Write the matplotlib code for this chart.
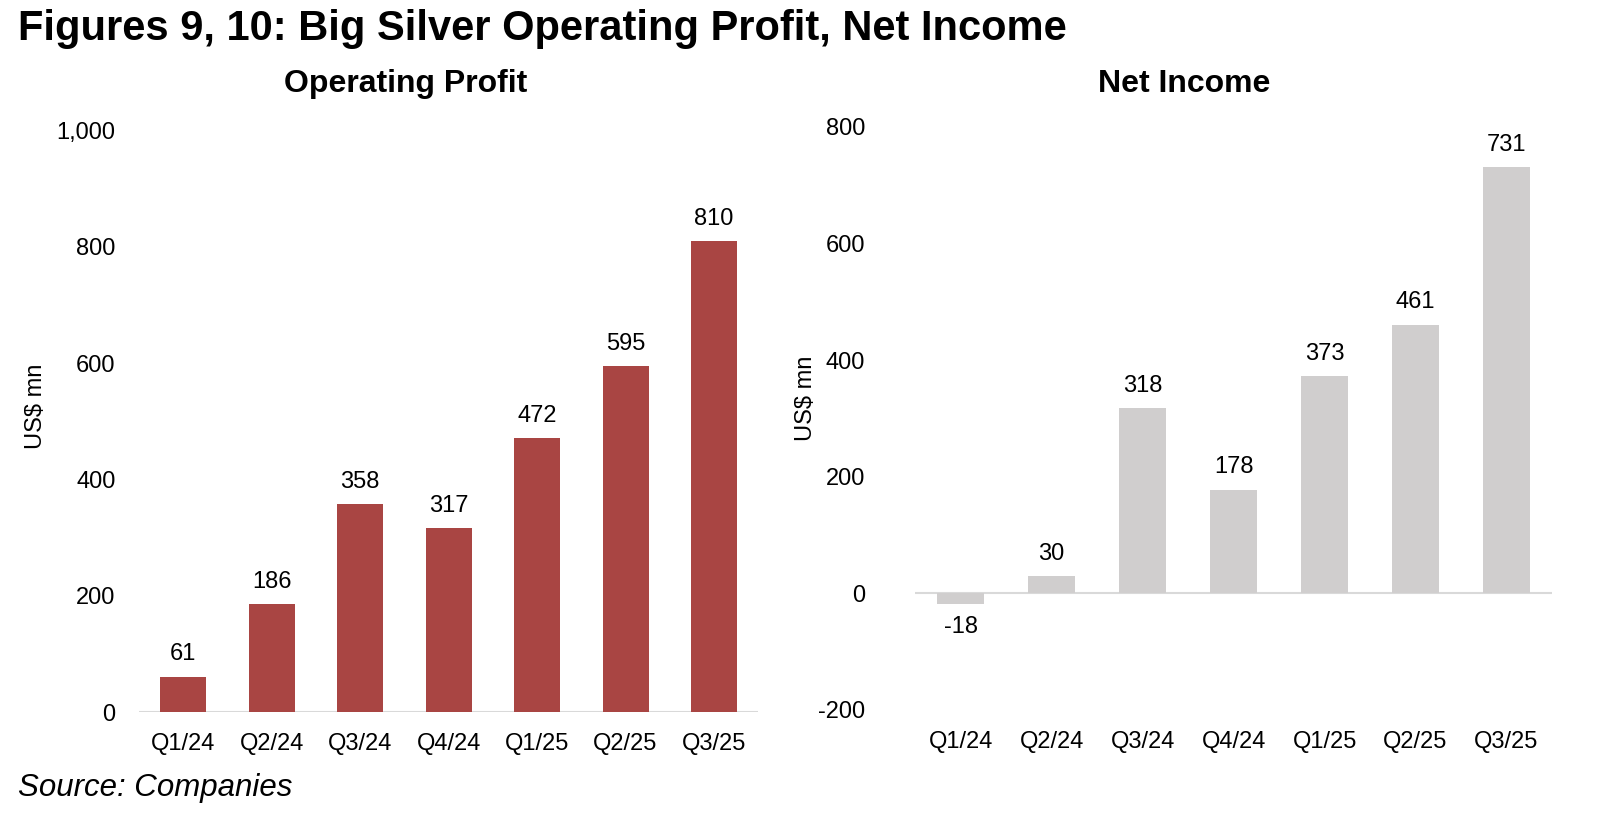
import matplotlib.pyplot as plt

plt.rcParams['font.family'] = ['Liberation Sans', 'DejaVu Sans']

quarters = ['Q1/24', 'Q2/24', 'Q3/24', 'Q4/24', 'Q1/25', 'Q2/25', 'Q3/25']
operating_profit = [61, 186, 358, 317, 472, 595, 810]
net_income = [-18, 30, 318, 178, 373, 461, 731]

red = '#A94543'
grey = '#D0CECE'
line_col = '#D9D9D9'
fs = 17


def draw_panel(ax, values, color, ylim, yticks, pad):
    x = range(len(values))
    ax.bar(x, values, width=0.52, color=color, zorder=2)
    ax.axhline(0, color=line_col, lw=1.5, zorder=1)
    ax.set_xlim(-0.5, len(values) - 0.5)
    ax.set_ylim(*ylim)
    ax.set_yticks(yticks)
    ax.set_yticklabels([f'{t:,}' for t in yticks])
    ax.set_xticks(list(x))
    ax.set_xticklabels(quarters)
    for s in ax.spines.values():
        s.set_visible(False)
    ax.tick_params(axis='y', length=0, pad=pad, labelsize=fs)
    ax.tick_params(axis='x', length=0, pad=15, labelsize=fs)
    for i, v in enumerate(values):
        if v >= 0:
            ax.annotate(str(v), (i, v), xytext=(0, 8), textcoords='offset points',
                        ha='center', va='bottom', fontsize=fs)
        else:
            ax.annotate(str(v), (i, v), xytext=(0, -9), textcoords='offset points',
                        ha='center', va='top', fontsize=fs)


fig = plt.figure(figsize=(16, 8.27), dpi=100)

ax1 = fig.add_axes([0.0869, 0.139, 0.387, 0.703])
draw_panel(ax1, operating_profit, red, (0, 1000), [0, 200, 400, 600, 800, 1000], 17)

ax2 = fig.add_axes([0.572, 0.1415, 0.398, 0.705])
draw_panel(ax2, net_income, grey, (-200, 800), [-200, 0, 200, 400, 600, 800], 36)

fig.text(36 / 1600, 1 - 406 / 827, 'US$ mn', rotation=90, ha='center', va='center', fontsize=fs)
fig.text(806 / 1600, 1 - 398 / 827, 'US$ mn', rotation=90, ha='center', va='center', fontsize=fs)

fig.text(18 / 1600, 1 - 29 / 827, 'Figures 9, 10: Big Silver Operating Profit, Net Income',
         ha='left', va='center', fontsize=30, fontweight='bold')
fig.text(406 / 1600, 1 - 84 / 827, 'Operating Profit', ha='center', va='center',
         fontsize=23, fontweight='bold')
fig.text(1184 / 1600, 1 - 84 / 827, 'Net Income', ha='center', va='center',
         fontsize=23, fontweight='bold')
fig.text(18 / 1600, 1 - 788 / 827, 'Source: Companies', ha='left', va='center',
         fontsize=22.5, style='italic')

fig.savefig('out.png', dpi=100)
